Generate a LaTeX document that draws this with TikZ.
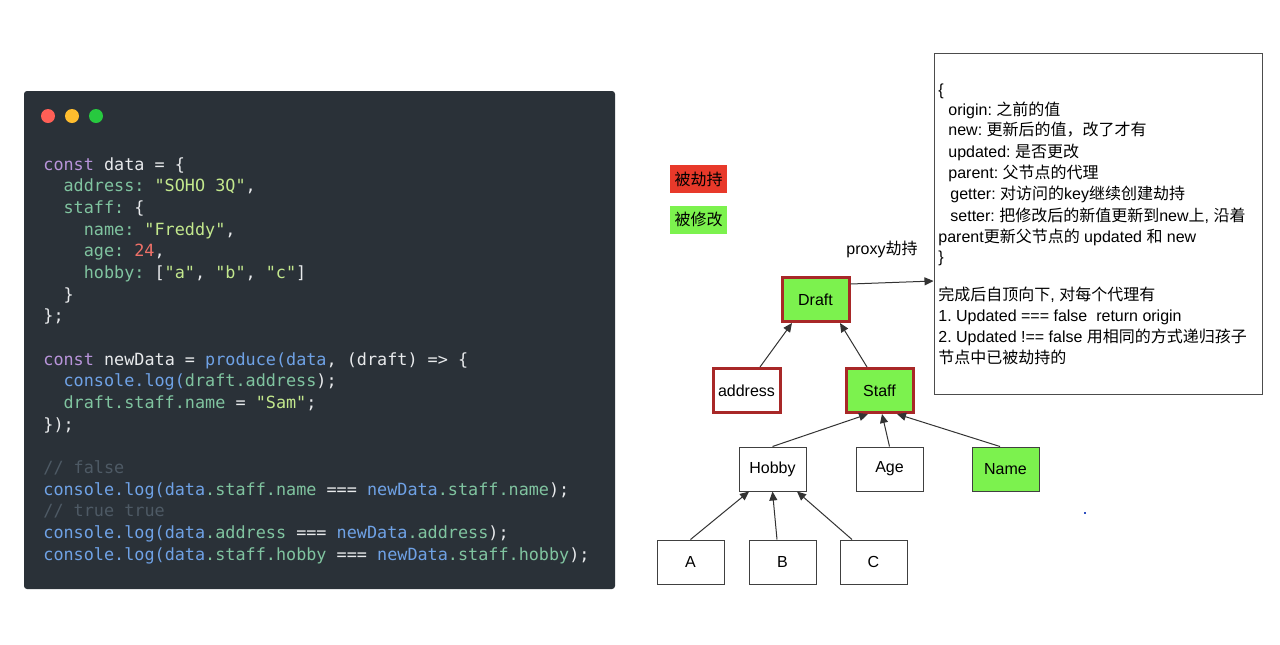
\documentclass[tikz,border=0pt]{standalone}
\usepackage{fontspec}
\setmainfont{Liberation Sans}
\setmonofont{DejaVu Sans Mono}
\newfontfamily\cjk{Noto Sans CJK SC}
\usetikzlibrary{arrows.meta}
\frenchspacing

\definecolor{panel}{HTML}{2A3138}
\definecolor{cplain}{HTML}{E8EAEC}
\definecolor{ckw}{HTML}{B894DA}
\definecolor{cprop}{HTML}{80C4A0}
\definecolor{cstr}{HTML}{C3E88D}
\definecolor{cnum}{HTML}{F07168}
\definecolor{cfn}{HTML}{6FA2E6}
\definecolor{ccom}{HTML}{4E5A65}
\definecolor{hijack}{HTML}{E8392A}
\definecolor{changed}{HTML}{7CF24E}
\definecolor{rim}{HTML}{A82828}
\definecolor{dotred}{HTML}{FF5F56}
\definecolor{dotyellow}{HTML}{FFBD2E}
\definecolor{dotgreen}{HTML}{27C93F}
\definecolor{speck}{HTML}{3050C0}

\newcommand{\jkw}[1]{\textcolor{ckw}{#1}}
\newcommand{\jprop}[1]{\textcolor{cprop}{#1}}
\newcommand{\jstr}[1]{\textcolor{cstr}{#1}}
\newcommand{\jnum}[1]{\textcolor{cnum}{#1}}
\newcommand{\jfn}[1]{\textcolor{cfn}{#1}}
\newcommand{\jcom}[1]{\textcolor{ccom}{#1}}

\begin{document}
\begin{tikzpicture}[x=0.5pt, y=-0.5pt,
  code/.style={anchor=base west, inner sep=0pt, text=cplain, font=\ttfamily\fontsize{8.4}{10}\selectfont},
  line/.style={anchor=base west, inner sep=0pt, font=\fontsize{8}{10}\selectfont},
  box/.style={draw=black!75, line width=0.5pt, minimum width=33.5pt, minimum height=22pt, inner sep=0pt, font=\fontsize{8}{10}\selectfont},
  hot/.style={box, draw=rim, line width=1.5pt},
  tag/.style={minimum width=28.5pt, minimum height=14pt, inner sep=0pt, font=\cjk\fontsize{8}{10}\selectfont},
  arr/.style={draw=black!80, line width=0.5pt, -{Triangle[length=4.5pt,width=4pt]}}]
\useasboundingbox (0,0) rectangle (1280,644);
\fill[white] (0,0) rectangle (1280,644);

% code panel
\fill[panel, rounded corners=1.5pt] (24,91) rectangle (615,589);
\fill[dotred] (48,116) circle (3.5pt);
\fill[dotyellow] (72,116) circle (3.5pt);
\fill[dotgreen] (96,116) circle (3.5pt);

\node[code] (c1) at (43,170) {\jkw{const} data = \{};
\node[code] (c2) at (63.2,191.7) {\jprop{address:} \jstr{"SOHO 3Q"},};
\node[code] (c3) at (63.2,213.3) {\jprop{staff:} \{};
\node[code] (c4) at (83.4,235) {\jprop{name:} \jstr{"Freddy"},};
\node[code] (c5) at (83.4,256.7) {\jprop{age:} \jnum{24},};
\node[code] (c6) at (83.4,278.3) {\jprop{hobby:} [\jstr{"a"}, \jstr{"b"}, \jstr{"c"}]};
\node[code] (c7) at (63.2,300) {\}};
\node[code] (c8) at (43,321.7) {\};};
\node[code] (c9) at (43,365) {\jkw{const} newData = \jfn{produce(data}, (draft) => \{};
\node[code] (c10) at (63.2,386.7) {\jfn{console.log(}\jprop{draft.address});};
\node[code] (c11) at (63.2,408.3) {\jprop{draft.staff.name} = \jstr{"Sam"};};
\node[code] (c12) at (43,430) {\});};
\node[code] (c13) at (43,473.3) {\jcom{// false}};
\node[code] (c14) at (43,495) {\jfn{console.log(data}\jprop{.staff.name} === \jfn{newData}\jprop{.staff.name});};
\node[code] (c15) at (43,516.7) {\jcom{// true true}};
\node[code] (c16) at (43,538.3) {\jfn{console.log(data}\jprop{.address} === \jfn{newData}\jprop{.address});};
\node[code] (c17) at (43,560) {\jfn{console.log(data}\jprop{.staff.hobby} === \jfn{newData}\jprop{.staff.hobby});};

% legend
\node[tag, fill=hijack] (red) at (698.5,179) {被劫持};
\node[tag, fill=changed] (green) at (698.5,219.5) {被修改};

% tree
\node[hot, fill=changed] (draft) at (815.5,299.5) {Draft};
\node[hot, fill=white] (address) at (746.5,390.5) {address};
\node[hot, fill=changed] (staff) at (879.5,390.5) {Staff};
\node[box] (hobby) at (772.5,469) {Hobby};
\node[box] (age) at (889.5,469) {Age};
\node[box, fill=changed] (name) at (1005.5,469) {Name};
\node[box] (a) at (690.5,562) {A};
\node[box] (b) at (782.5,562) {B};
\node[box] (c) at (873.5,562) {C};

\draw[arr] ([xshift=6.75pt]address.north) -- ([xshift=-11.75pt]draft.south);
\draw[arr] ([xshift=-6.25pt]staff.north) -- ([xshift=12.25pt]draft.south);
\draw[arr] (hobby.north) -- ([xshift=-5.75pt]staff.south);
\draw[arr] (age.north) -- ([xshift=1.25pt]staff.south);
\draw[arr] ([xshift=-2.75pt]name.north) -- ([xshift=8.75pt]staff.south);
\draw[arr] (a.north) -- ([xshift=-11.75pt]hobby.south);
\draw[arr] ([xshift=-2.75pt]b.north) -- (hobby.south);
\draw[arr] ([xshift=-10.75pt]c.north) -- ([xshift=12.25pt]hobby.south);

% note
\node[draw=black!70, line width=0.5pt, minimum width=164pt, minimum height=170.5pt, inner sep=0pt] (note) at (1098,223.5) {};
\draw[arr] ([yshift=7.75pt]draft.east) -- ([yshift=-28.75pt]note.west);
\node[inner sep=0pt, font=\fontsize{8}{10}\selectfont] (proxy) at (882,249) {proxy{\cjk 劫持}};

\node[line] (n1) at (938,95) {\{};
\node[line] (n2) at (948,115) {origin: {\cjk 之前的值}};
\node[line] (n3) at (948,135) {new: {\cjk 更新后的值，改了才有}};
\node[line] (n4) at (948,157) {updated: {\cjk 是否更改}};
\node[line] (n5) at (948,178) {parent: {\cjk 父节点的代理}};
\node[line] (n6) at (950,199) {getter: {\cjk 对访问的}key{\cjk 继续创建劫持}};
\node[line] (n7) at (950,221) {setter: {\cjk 把修改后的新值更新到}new{\cjk 上}, {\cjk 沿着}};
\node[line] (n8) at (938,242) {parent{\cjk 更新父节点的} updated {\cjk 和} new};
\node[line] (n9) at (938,262) {\}};
\node[line] (n10) at (938,300) {{\cjk 完成后自顶向下}, {\cjk 对每个代理有}};
\node[line] (n11) at (938,321) {1. Updated === false \ return origin};
\node[line] (n12) at (938,342) {2. Updated !== false {\cjk 用相同的方式递归孩子}};
\node[line] (n13) at (938,363) {{\cjk 节点中已被劫持的}};

\fill[speck] (1084,512) rectangle (1086,514);
\end{tikzpicture}
\end{document}
